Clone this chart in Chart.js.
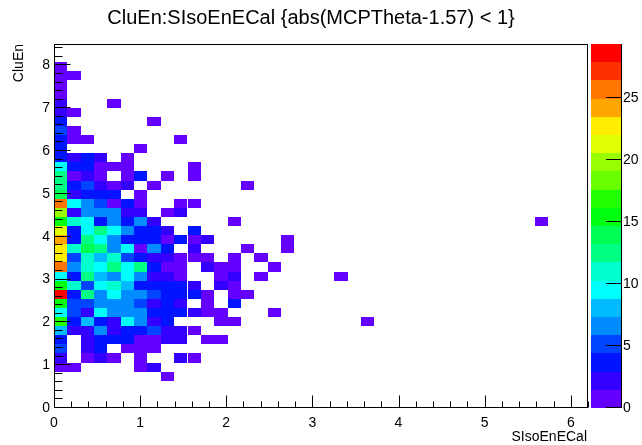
<!DOCTYPE html>
<html>
<head>
<meta charset="utf-8">
<script src="https://cdn.jsdelivr.net/npm/chart.js@4/dist/chart.umd.min.js"></script>
<style>
  html, body { margin: 0; padding: 0; background: #fff; }
  canvas { display: block; }
</style>
</head>
<body>
<canvas id="c" width="642" height="445"></canvas>
<script>
// Histogram binning (40 x 40 bins)
const xRange = [0, 6.2];
const yRange = [0, 8.5];
const nBinsX = 40;
const nBinsY = 40;

// Filled bins: x-bin index, y-bin index and number of entries
const binX = [
  0,
  0, 1,
  0,
  0,
  0, 4,
  0, 1,
  0, 7,
  0, 1,
  0, 1, 2, 9,
  0, 6,
  0, 1, 2, 3, 5,
  0, 1, 2, 3, 4, 5, 10,
  0, 1, 2, 3, 5, 6, 8, 10,
  0, 1, 2, 3, 4, 5, 7, 14,
  0, 1, 2, 3, 4, 6,
  0, 1, 2, 3, 4, 5, 6, 9, 10,
  0, 1, 2, 3, 4, 5, 6, 8, 9,
  0, 1, 2, 3, 4, 5, 6, 7, 13, 36,
  0, 1, 2, 3, 4, 5, 6, 7, 8, 10,
  0, 1, 2, 3, 4, 5, 6, 7, 8, 9, 10, 11, 17,
  0, 1, 2, 3, 4, 5, 6, 7, 8, 10, 14, 17,
  0, 1, 2, 3, 4, 5, 6, 7, 8, 9, 10, 11, 13, 15,
  0, 1, 2, 3, 4, 5, 6, 7, 8, 9, 11, 12, 13, 16,
  0, 1, 2, 3, 4, 5, 6, 7, 8, 9, 12, 13, 15, 21,
  0, 1, 2, 3, 4, 5, 6, 7, 8, 9, 10, 12, 13,
  0, 1, 2, 3, 4, 5, 6, 7, 8, 9, 10, 11, 13, 14,
  0, 1, 2, 3, 4, 5, 6, 7, 8, 9, 11, 13,
  0, 1, 2, 3, 4, 5, 6, 7, 8, 9, 10, 11, 12, 16,
  0, 1, 2, 3, 4, 5, 6, 7, 8, 12, 13, 23,
  0, 1, 2, 3, 4, 5, 6, 7, 8, 9, 10,
  0, 2, 3, 4, 5, 6, 7, 8, 9, 11, 12,
  0, 2, 3, 5, 6, 7,
  0, 2, 3, 4, 6, 9, 10,
  0, 1, 6, 7,
  8
];
const binY = [
  37,
  36, 36,
  35,
  34,
  33, 33,
  32, 32,
  31, 31,
  30, 30,
  29, 29, 29, 29,
  28, 28,
  27, 27, 27, 27, 27,
  26, 26, 26, 26, 26, 26, 26,
  25, 25, 25, 25, 25, 25, 25, 25,
  24, 24, 24, 24, 24, 24, 24, 24,
  23, 23, 23, 23, 23, 23,
  22, 22, 22, 22, 22, 22, 22, 22, 22,
  21, 21, 21, 21, 21, 21, 21, 21, 21,
  20, 20, 20, 20, 20, 20, 20, 20, 20, 20,
  19, 19, 19, 19, 19, 19, 19, 19, 19, 19,
  18, 18, 18, 18, 18, 18, 18, 18, 18, 18, 18, 18, 18,
  17, 17, 17, 17, 17, 17, 17, 17, 17, 17, 17, 17,
  16, 16, 16, 16, 16, 16, 16, 16, 16, 16, 16, 16, 16, 16,
  15, 15, 15, 15, 15, 15, 15, 15, 15, 15, 15, 15, 15, 15,
  14, 14, 14, 14, 14, 14, 14, 14, 14, 14, 14, 14, 14, 14,
  13, 13, 13, 13, 13, 13, 13, 13, 13, 13, 13, 13, 13,
  12, 12, 12, 12, 12, 12, 12, 12, 12, 12, 12, 12, 12, 12,
  11, 11, 11, 11, 11, 11, 11, 11, 11, 11, 11, 11,
  10, 10, 10, 10, 10, 10, 10, 10, 10, 10, 10, 10, 10, 10,
  9, 9, 9, 9, 9, 9, 9, 9, 9, 9, 9, 9,
  8, 8, 8, 8, 8, 8, 8, 8, 8, 8, 8,
  7, 7, 7, 7, 7, 7, 7, 7, 7, 7, 7,
  6, 6, 6, 6, 6, 6,
  5, 5, 5, 5, 5, 5, 5,
  4, 4, 4, 4,
  3
];
const entries = [
  1,
  1, 1,
  1,
  1,
  2, 1,
  2, 1,
  3, 1,
  5, 1,
  3, 1, 1, 1,
  3, 1,
  3, 2, 3, 2, 1,
  10, 3, 3, 1, 1, 1, 1,
  13, 1, 2, 1, 1, 3, 1, 1,
  13, 3, 5, 2, 1, 2, 1, 1,
  14, 2, 3, 3, 3, 1,
  25, 10, 7, 5, 1, 3, 1, 1, 1,
  20, 2, 7, 6, 7, 2, 2, 1, 2,
  16, 11, 10, 3, 6, 3, 7, 2, 1, 1,
  22, 3, 9, 13, 10, 6, 3, 3, 2, 3,
  24, 3, 12, 9, 7, 3, 3, 3, 1, 3, 1, 2, 1,
  23, 11, 14, 12, 6, 10, 1, 7, 3, 2, 1, 1,
  23, 5, 11, 8, 11, 5, 3, 2, 2, 1, 1, 1, 1, 1,
  26, 6, 11, 9, 13, 10, 12, 3, 1, 1, 2, 1, 1, 1,
  10, 3, 12, 8, 7, 9, 6, 2, 2, 1, 1, 2, 1, 1,
  16, 11, 5, 10, 11, 8, 3, 3, 3, 3, 2, 2, 1,
  28, 3, 12, 7, 9, 6, 7, 5, 3, 3, 3, 1, 1, 1,
  16, 5, 5, 6, 7, 6, 5, 2, 3, 2, 1, 3,
  10, 5, 2, 10, 7, 6, 7, 3, 3, 3, 2, 1, 1, 1,
  17, 3, 8, 3, 2, 9, 6, 2, 3, 1, 1, 1,
  8, 2, 2, 6, 2, 3, 3, 5, 2, 2, 1,
  3, 2, 3, 3, 3, 1, 1, 2, 2, 1, 1,
  5, 2, 3, 1, 1, 1,
  2, 1, 2, 1, 1, 2, 1,
  1, 1, 1, 2,
  1
];

// Axis tick labels
const xTicks = [0, 1, 2, 3, 4, 5, 6];
const yTicks = [0, 1, 2, 3, 4, 5, 6, 7, 8];
const zTicks = [0, 5, 10, 15, 20, 25];

const titleText = 'CluEn:SIsoEnECal {abs(MCPTheta-1.57) < 1}';
const xTitle = 'SIsoEnECal';
const yTitle = 'CluEn';

const FONT = '"Liberation Sans", Arial, Helvetica, sans-serif';
const nContours = 20;
const zMax = 1.05 * Math.max(...entries);

const bwX = (xRange[1] - xRange[0]) / nBinsX;
const bwY = (yRange[1] - yRange[0]) / nBinsY;

// Violet -> red spectrum, 50 hues, sampled for each contour level
function hslColor(h) {
  const f = (n) => {
    const k = (n + h / 30) % 12;
    const v = 0.5 - 0.5 * Math.max(-1, Math.min(k - 3, 9 - k, 1));
    return Math.round(v * 255);
  };
  return 'rgb(' + f(0) + ',' + f(8) + ',' + f(4) + ')';
}
const levelColors = [];
for (let k = 0; k < nContours; k++) {
  const idx = Math.floor((k + 0.99) * 50 / nContours);
  levelColors.push(hslColor(280 - (idx + 1) * 5.6));
}
function colorFor(n) {
  let k = Math.floor(n * nContours / zMax);
  if (k > nContours - 1) k = nContours - 1;
  if (k < 0) k = 0;
  return levelColors[k];
}

const cells = binX.map((ix, i) => ({
  x: xRange[0] + (ix + 0.5) * bwX,
  y: yRange[0] + (binY[i] + 0.5) * bwY,
  n: entries[i]
}));

const colzPlugin = {
  id: 'colz',
  beforeDatasetsDraw(chart) {
    const ctx = chart.ctx;
    const xs = chart.scales.x, ys = chart.scales.y;
    ctx.save();
    cells.forEach(c => {
      const l = Math.round(xs.getPixelForValue(c.x - bwX / 2));
      const r = Math.round(xs.getPixelForValue(c.x + bwX / 2));
      const t = Math.round(ys.getPixelForValue(c.y + bwY / 2));
      const b = Math.round(ys.getPixelForValue(c.y - bwY / 2));
      ctx.fillStyle = colorFor(c.n);
      ctx.fillRect(l, t, r - l, b - t);
    });
    ctx.restore();
  },
  afterDraw(chart) {
    const ctx = chart.ctx;
    const xs = chart.scales.x, ys = chart.scales.y, zs = chart.scales.z;
    const a = chart.chartArea;
    ctx.save();
    ctx.strokeStyle = '#000';
    ctx.lineWidth = 1;
    // frame
    ctx.strokeRect(Math.round(a.left) + 0.5, Math.round(a.top) + 0.5,
      Math.round(a.right - a.left) - 1, Math.round(a.bottom - a.top) - 1);
    ctx.beginPath();
    const bottom = Math.round(a.bottom) - 0.5;
    const left = Math.round(a.left) + 0.5;
    // x axis ticks (major every 1, minor every 0.2)
    for (let i = 0; i * 0.2 <= xRange[1] + 1e-9; i++) {
      const v = i * 0.2;
      const px = Math.round(xs.getPixelForValue(v)) + 0.5;
      const len = (i % 5 === 0) ? 12 : 6;
      ctx.moveTo(px, bottom);
      ctx.lineTo(px, bottom - len);
    }
    // y axis ticks
    for (let i = 0; i * 0.2 <= yRange[1] + 1e-9; i++) {
      const v = i * 0.2;
      const py = Math.round(ys.getPixelForValue(v)) - 0.5;
      const len = (i % 5 === 0) ? 16 : 8;
      ctx.moveTo(left, py);
      ctx.lineTo(left + len, py);
    }
    ctx.stroke();

    // colour scale
    const zl = 591, zr = 622;
    for (let k = 0; k < nContours; k++) {
      const lo = k * zMax / nContours, hi = (k + 1) * zMax / nContours;
      const t = Math.round(zs.getPixelForValue(hi));
      const b = Math.round(zs.getPixelForValue(lo));
      ctx.fillStyle = levelColors[k];
      ctx.fillRect(zl, t, zr - zl, b - t);
    }
    ctx.beginPath();
    ctx.moveTo(zr - 0.5, Math.round(a.top));
    ctx.lineTo(zr - 0.5, Math.round(a.bottom));
    zTicks.forEach(v => {
      const py = Math.round(zs.getPixelForValue(v)) - 0.5;
      ctx.moveTo(zr, py);
      ctx.lineTo(zr - 16, py);
    });
    ctx.stroke();

    // titles
    ctx.fillStyle = '#000';
    ctx.font = '20px ' + FONT;
    ctx.textAlign = 'center';
    ctx.textBaseline = 'alphabetic';
    ctx.fillText(titleText, 311, 24);

    ctx.font = '14px ' + FONT;
    ctx.textAlign = 'right';
    ctx.fillText(xTitle, 587, 441);

    ctx.translate(23, Math.round(a.top));
    ctx.rotate(-Math.PI / 2);
    ctx.textAlign = 'right';
    ctx.fillText(yTitle, 0, 0);
    ctx.restore();
  }
};

const tickFont = { family: FONT, size: 14 };

new Chart(document.getElementById('c'), {
  type: 'scatter',
  data: {
    datasets: [{
      data: cells,
      pointRadius: 0,
      pointHoverRadius: 0,
      showLine: false
    }]
  },
  options: {
    responsive: false,
    animation: false,
    devicePixelRatio: 1,
    events: [],
    layout: { padding: { top: 44, left: 0, right: 0, bottom: 0 } },
    plugins: { legend: { display: false }, tooltip: { enabled: false }, title: { display: false } },
    scales: {
      x: {
        type: 'linear', position: 'bottom',
        min: xRange[0], max: xRange[1],
        afterBuildTicks: s => { s.ticks = xTicks.map(v => ({ value: v })); },
        afterFit: s => { s.height = 37; },
        grid: { display: false, drawTicks: false },
        border: { display: false },
        ticks: { color: '#000', font: tickFont, padding: 7, maxRotation: 0, autoSkip: false }
      },
      y: {
        type: 'linear', position: 'left',
        min: yRange[0], max: yRange[1],
        afterBuildTicks: s => { s.ticks = yTicks.map(v => ({ value: v })); },
        afterFit: s => { s.width = 54; },
        grid: { display: false, drawTicks: false },
        border: { display: false },
        ticks: { color: '#000', font: tickFont, padding: 4, autoSkip: false }
      },
      z: {
        type: 'linear', position: 'right',
        min: 0, max: zMax,
        afterBuildTicks: s => { s.ticks = zTicks.map(v => ({ value: v })); },
        afterFit: s => { s.width = 54; },
        grid: { display: false, drawTicks: true, tickLength: 31 },
        border: { display: false },
        ticks: { color: '#000', font: tickFont, padding: 4, autoSkip: false }
      }
    }
  },
  plugins: [colzPlugin]
});
</script>
</body>
</html>
